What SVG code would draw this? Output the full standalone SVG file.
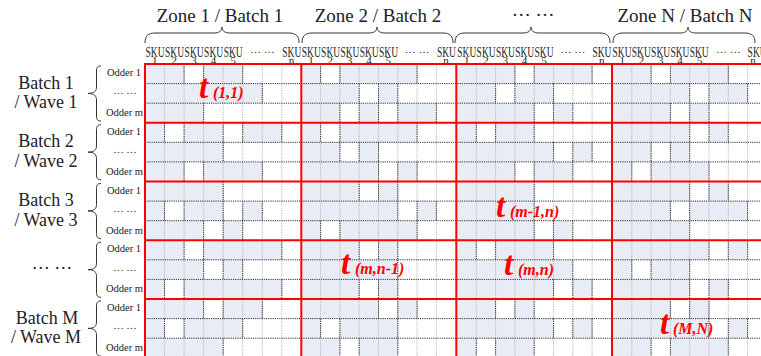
<svg xmlns="http://www.w3.org/2000/svg" width="761" height="356" viewBox="0 0 761 356">
<style>
.ser{font-family:"Liberation Serif","Times New Roman",serif;fill:#222}
.title{font-size:19px;text-anchor:middle}
.blab{font-size:18px;text-anchor:middle}
.sku{font-size:15px}
.num{font-size:11px;text-anchor:middle}
.row{font-size:10.5px}
.ell{font-size:11px;text-anchor:middle}
.brace{fill:none;stroke:#333;stroke-width:1}
.blue{fill:#e8ecf5;stroke:none}
.light{fill:none;stroke:#b4b4b4;stroke-width:1;stroke-dasharray:1.2 1.2}
.dark{fill:none;stroke:#333;stroke-width:1;stroke-dasharray:1.2 1}
.red{fill:none;stroke:#ff0000;stroke-width:2}
.tl{font-family:"Liberation Serif","Times New Roman",serif;font-weight:bold;font-style:italic;fill:#ff0000}
.tt{font-size:33px}
.ts{font-size:16px}
</style>
<defs>
<path id="lb" d="M101,2 C97.5,2 96.5,3.5 96.5,7 L96.5,23 C96.5,27 94.5,29.4 88,29.4 C94.5,29.4 96.5,32 96.5,36 L96.5,52 C96.5,55.5 97.5,57 101,57"/>
</defs>
<rect width="761" height="356" fill="#fff"/>

<g id="zone-headers">
<text class="ser title" x="220" y="22">Zone 1 / Batch 1</text>
<text class="ser title" x="378" y="22">Zone 2 / Batch 2</text>
<text class="ser title" x="533" y="16">… …</text>
<text class="ser title" x="685" y="22">Zone N / Batch N</text>
<path class="brace" d="M145,43 C145,36 148,33 155,33 L214,33 C219,33 222,31 222,27 C222,31 225,33 230,33 L289,33 C296,33 299,36 299,43"/>
<path class="brace" d="M302,43 C302,36 305,33 312,33 L369,33 C374,33 377,31 377,27 C377,31 380,33 385,33 L443,33 C450,33 453,36 453,43"/>
<path class="brace" d="M455,43 C455,36 458,33 465,33 L523,33 C528,33 531,31 531,27 C531,31 534,33 539,33 L600,33 C607,33 610,36 610,43"/>
<path class="brace" d="M613,43 C613,36 616,33 623,33 L680,33 C685,33 688,31 688,27 C688,31 691,33 696,33 L745,33 C752,33 755,36 755,43"/>
</g>

<g id="sku-labels">
<g class="ser">
<text class="sku" x="145.5" y="57" textLength="19" lengthAdjust="spacingAndGlyphs">SKU</text>
<text class="sku" x="165" y="57" textLength="19" lengthAdjust="spacingAndGlyphs">SKU</text>
<text class="sku" x="184.6" y="57" textLength="19" lengthAdjust="spacingAndGlyphs">SKU</text>
<text class="sku" x="204.1" y="57" textLength="19" lengthAdjust="spacingAndGlyphs">SKU</text>
<text class="sku" x="223.7" y="57" textLength="19" lengthAdjust="spacingAndGlyphs">SKU</text>
<text class="sku" x="282.3" y="57" textLength="19" lengthAdjust="spacingAndGlyphs">SKU</text>
<text class="num" x="154.8" y="63.5">1</text>
<text class="num" x="174.3" y="63.5">2</text>
<text class="num" x="193.9" y="63.5">3</text>
<text class="num" x="213.4" y="63.5">4</text>
<text class="num" x="233" y="63.5">5</text>
<text class="num" x="291.5" y="63.5">n</text>
<text class="ell" x="262.3" y="53">… …</text>

<text class="sku" x="301.8" y="57" textLength="19" lengthAdjust="spacingAndGlyphs">SKU</text>
<text class="sku" x="321.1" y="57" textLength="19" lengthAdjust="spacingAndGlyphs">SKU</text>
<text class="sku" x="340.4" y="57" textLength="19" lengthAdjust="spacingAndGlyphs">SKU</text>
<text class="sku" x="359.7" y="57" textLength="19" lengthAdjust="spacingAndGlyphs">SKU</text>
<text class="sku" x="379" y="57" textLength="19" lengthAdjust="spacingAndGlyphs">SKU</text>
<text class="sku" x="436.9" y="57" textLength="19" lengthAdjust="spacingAndGlyphs">SKU</text>
<text class="num" x="311" y="63.5">1</text>
<text class="num" x="330.3" y="63.5">2</text>
<text class="num" x="349.6" y="63.5">3</text>
<text class="num" x="368.9" y="63.5">4</text>
<text class="num" x="388.2" y="63.5">5</text>
<text class="num" x="446" y="63.5">n</text>
<text class="ell" x="417.1" y="53">… …</text>

<text class="sku" x="457.3" y="57" textLength="19" lengthAdjust="spacingAndGlyphs">SKU</text>
<text class="sku" x="476.6" y="57" textLength="19" lengthAdjust="spacingAndGlyphs">SKU</text>
<text class="sku" x="495.9" y="57" textLength="19" lengthAdjust="spacingAndGlyphs">SKU</text>
<text class="sku" x="515.2" y="57" textLength="19" lengthAdjust="spacingAndGlyphs">SKU</text>
<text class="sku" x="534.5" y="57" textLength="19" lengthAdjust="spacingAndGlyphs">SKU</text>
<text class="sku" x="592.4" y="57" textLength="19" lengthAdjust="spacingAndGlyphs">SKU</text>
<text class="num" x="466.7" y="63.5">1</text>
<text class="num" x="486" y="63.5">2</text>
<text class="num" x="505.3" y="63.5">3</text>
<text class="num" x="524.6" y="63.5">4</text>
<text class="num" x="543.9" y="63.5">5</text>
<text class="num" x="601.8" y="63.5">n</text>
<text class="ell" x="572.8" y="53">… …</text>

<text class="sku" x="612.5" y="57" textLength="19" lengthAdjust="spacingAndGlyphs">SKU</text>
<text class="sku" x="631.8" y="57" textLength="19" lengthAdjust="spacingAndGlyphs">SKU</text>
<text class="sku" x="651.1" y="57" textLength="19" lengthAdjust="spacingAndGlyphs">SKU</text>
<text class="sku" x="670.4" y="57" textLength="19" lengthAdjust="spacingAndGlyphs">SKU</text>
<text class="sku" x="689.7" y="57" textLength="19" lengthAdjust="spacingAndGlyphs">SKU</text>
<text class="sku" x="747.6" y="57" textLength="19" lengthAdjust="spacingAndGlyphs">SKU</text>
<text class="num" x="622.2" y="63.5">1</text>
<text class="num" x="641.5" y="63.5">2</text>
<text class="num" x="660.8" y="63.5">3</text>
<text class="num" x="680.1" y="63.5">4</text>
<text class="num" x="699.4" y="63.5">5</text>
<text class="num" x="753" y="63.5">n</text>
<text class="ell" x="728.3" y="53">… …</text>
</g>
</g>

<g id="batch-labels">
<g class="ser blab">
<text x="46" y="88.5">Batch 1</text>
<text x="46" y="108">/ Wave 1</text>
<text x="46" y="147.3">Batch 2</text>
<text x="46" y="166.8">/ Wave 2</text>
<text x="46" y="206">Batch 3</text>
<text x="46" y="225.5">/ Wave 3</text>
<text x="52" y="268.5">… …</text>
<text x="47" y="323.5">Batch M</text>
<text x="46" y="343">/ Wave M</text>
</g>
<use href="#lb" class="brace" y="64"/>
<use href="#lb" class="brace" y="122.75"/>
<use href="#lb" class="brace" y="181.5"/>
<use href="#lb" class="brace" y="240.25"/>
<use href="#lb" class="brace" y="299"/>
<g class="ser row">
<text x="107" y="76">Odder 1</text>
<text x="125" y="94.4" text-anchor="middle">… …</text>
<text x="106" y="116">Odder m</text>
<text x="107" y="134.75">Odder 1</text>
<text x="125" y="153.15" text-anchor="middle">… …</text>
<text x="106" y="174.75">Odder m</text>
<text x="107" y="193.5">Odder 1</text>
<text x="125" y="211.9" text-anchor="middle">… …</text>
<text x="106" y="233.5">Odder m</text>
<text x="107" y="252.25">Odder 1</text>
<text x="125" y="270.65" text-anchor="middle">… …</text>
<text x="106" y="292.25">Odder m</text>
<text x="107" y="311">Odder 1</text>
<text x="125" y="329.4" text-anchor="middle">… …</text>
<text x="106" y="351">Odder m</text>
</g>
</g>

<g id="grid">
<path class="blue" d="
M145 64h39.1v19.6h-39.1z M203.6 64h39.1v19.6h-39.1z
M145 83.6h117.3v19.6h-117.3z
M145 103.2h58.6v19.6h-58.6z
M145 122.8h19.5v19.6h-19.5z M184.1 122.8h39.1v19.6h-39.1z M242.7 122.8h39.1v19.6h-39.1z
M145 142.3h78.2v19.6h-78.2z
M145 161.9h39.1v19.6h-39.1z M203.6 161.9h58.7v19.6h-58.7z
M145 181.5h78.2v19.6h-78.2z
M145 201.1h19.5v19.6h-19.5z M184.1 201.1h39.1v19.6h-39.1z M242.7 201.1h19.6v19.6h-19.6z
M145 220.7h58.6v19.6h-58.6z M223.2 220.7h19.5v19.6h-19.5z
M145 240.3h39.1v19.6h-39.1z M203.6 240.3h78.2v19.6h-78.2z
M145 259.8h58.6v19.6h-58.6z M223.2 259.8h19.5v19.6h-19.5z
M145 279.4h19.5v19.6h-19.5z M184.1 279.4h97.7v19.6h-97.7z
M145 299h58.6v19.6h-58.6z M223.2 299h39.1v19.6h-39.1z
M145 318.6h19.5v19.6h-19.5z M184.1 318.6h58.6v19.6h-58.6z
M145 338.2h78.2v19.6h-78.2z

M301.3 64h19.3v19.6h-19.3z M339.9 64h77.2v19.6h-77.2z
M301.3 83.6h57.9v19.6h-57.9z M378.5 83.6h19.3v19.6h-19.3z
M301.3 103.2h38.6v19.6h-38.6z M359.2 103.2h19.3v19.6h-19.3z M397.8 103.2h38.6v19.6h-38.6z
M301.3 122.8h19.3v19.6h-19.3z M339.9 122.8h77.2v19.6h-77.2z
M301.3 142.3h38.6v19.6h-38.6z M359.2 142.3h19.3v19.6h-19.3z
M301.3 161.9h77.2v19.6h-77.2z M397.8 161.9h19.3v19.6h-19.3z
M301.3 181.5h57.9v19.6h-57.9z M378.5 181.5h19.3v19.6h-19.3z
M301.3 201.1h96.5v19.6h-96.5z M417.1 201.1h19.3v19.6h-19.3z
M301.3 220.7h19.3v19.6h-19.3z M339.9 220.7h77.2v19.6h-77.2z
M301.3 240.3h57.9v19.6h-57.9z M378.5 240.3h19.3v19.6h-19.3z
M301.3 259.8h96.5v19.6h-96.5z
M301.3 279.4h57.9v19.6h-57.9z M378.5 279.4h19.3v19.6h-19.3z
M301.3 299h77.2v19.6h-77.2z M397.8 299h19.3v19.6h-19.3z
M301.3 318.6h19.3v19.6h-19.3z M339.9 318.6h57.9v19.6h-57.9z
M301.3 338.2h38.6v19.6h-38.6z M359.2 338.2h38.6v19.6h-38.6z

M457 64h57.9v19.6h-57.9z M534.2 64h57.9v19.6h-57.9z
M457 83.6h38.6v19.6h-38.6z M514.9 83.6h38.6v19.6h-38.6z
M457 103.2h77.2v19.6h-77.2z M553.5 103.2h19.3v19.6h-19.3z
M457 122.8h19.3v19.6h-19.3z M495.6 122.8h38.6v19.6h-38.6z
M457 142.3h96.5v19.6h-96.5z M572.8 142.3h19.3v19.6h-19.3z
M457 161.9h57.9v19.6h-57.9z M534.2 161.9h38.6v19.6h-38.6z
M457 181.5h77.2v19.6h-77.2z
M457 201.1h77.2v19.6h-77.2z
M457 220.7h77.2v19.6h-77.2z M553.5 220.7h19.3v19.6h-19.3z
M457 240.3h19.3v19.6h-19.3z M495.6 240.3h57.9v19.6h-57.9z
M457 259.8h115.8v19.6h-115.8z
M457 279.4h96.5v19.6h-96.5z M572.8 279.4h19.3v19.6h-19.3z
M457 299h38.6v19.6h-38.6z M514.9 299h19.3v19.6h-19.3z
M457 318.6h96.5v19.6h-96.5z M572.8 318.6h19.3v19.6h-19.3z
M457 338.2h19.3v19.6h-19.3z M495.6 338.2h38.6v19.6h-38.6z

M612.5 64h38.6v19.6h-38.6z M670.4 64h57.9v19.6h-57.9z
M612.5 83.6h77.2v19.6h-77.2z M709 83.6h38.6v19.6h-38.6z
M612.5 103.2h57.9v19.6h-57.9z M689.7 103.2h19.3v19.6h-19.3z
M612.5 122.8h77.2v19.6h-77.2z M709 122.8h19.3v19.6h-19.3z
M612.5 142.3h38.6v19.6h-38.6z M670.4 142.3h19.3v19.6h-19.3z
M612.5 161.9h19.3v19.6h-19.3z M651.1 161.9h57.9v19.6h-57.9z
M612.5 181.5h77.2v19.6h-77.2z M709 181.5h19.3v19.6h-19.3z
M612.5 201.1h57.9v19.6h-57.9z M689.7 201.1h57.9v19.6h-57.9z
M612.5 220.7h77.2v19.6h-77.2z
M612.5 240.3h96.5v19.6h-96.5z M728.3 240.3h19.3v19.6h-19.3z
M612.5 259.8h19.3v19.6h-19.3z M651.1 259.8h38.6v19.6h-38.6z
M612.5 279.4h77.2v19.6h-77.2z M709 279.4h19.3v19.6h-19.3z
M612.5 299h57.9v19.6h-57.9z M689.7 299h19.3v19.6h-19.3z
M612.5 318.6h96.5v19.6h-96.5z M728.3 318.6h19.3v19.6h-19.3z
M612.5 338.2h38.6v19.6h-38.6z M670.4 338.2h57.9v19.6h-57.9z"/>

<path class="light" d="M164.5 64V356M184.1 64V356M203.6 64V356M223.2 64V356M242.7 64V356M262.3 64V356M281.8 64V356
M320.6 64V356M339.9 64V356M359.2 64V356M378.5 64V356M397.8 64V356M417.1 64V356M436.4 64V356
M476.3 64V356M495.6 64V356M514.9 64V356M534.2 64V356M553.5 64V356M572.8 64V356M592.1 64V356
M631.8 64V356M651.1 64V356M670.4 64V356M689.7 64V356M709 64V356M728.3 64V356M747.6 64V356"/>

<path class="dark" d="
M184.1 64v19.6M203.6 64v19.6M242.7 64v19.6M320.6 64v19.6M339.9 64v19.6M417.1 64v19.6M514.9 64v19.6M534.2 64v19.6M592.1 64v19.6M651.1 64v19.6M670.4 64v19.6M728.3 64v19.6
M262.3 83.6v19.6M359.2 83.6v19.6M378.5 83.6v19.6M397.8 83.6v19.6M495.6 83.6v19.6M514.9 83.6v19.6M553.5 83.6v19.6M689.7 83.6v19.6M709 83.6v19.6M747.6 83.6v19.6
M203.6 103.2v19.6M339.9 103.2v19.6M359.2 103.2v19.6M378.5 103.2v19.6M397.8 103.2v19.6M436.4 103.2v19.6M534.2 103.2v19.6M553.5 103.2v19.6M572.8 103.2v19.6M670.4 103.2v19.6M689.7 103.2v19.6M709 103.2v19.6
M164.5 122.8v19.6M184.1 122.8v19.6M223.2 122.8v19.6M242.7 122.8v19.6M281.8 122.8v19.6M320.6 122.8v19.6M339.9 122.8v19.6M417.1 122.8v19.6M476.3 122.8v19.6M495.6 122.8v19.6M534.2 122.8v19.6M689.7 122.8v19.6M709 122.8v19.6M728.3 122.8v19.6
M223.2 142.3v19.6M339.9 142.3v19.6M359.2 142.3v19.6M378.5 142.3v19.6M553.5 142.3v19.6M572.8 142.3v19.6M592.1 142.3v19.6M651.1 142.3v19.6M670.4 142.3v19.6M689.7 142.3v19.6
M184.1 161.9v19.6M203.6 161.9v19.6M262.3 161.9v19.6M378.5 161.9v19.6M397.8 161.9v19.6M417.1 161.9v19.6M514.9 161.9v19.6M534.2 161.9v19.6M572.8 161.9v19.6M631.8 161.9v19.6M651.1 161.9v19.6M709 161.9v19.6
M223.2 181.5v19.6M359.2 181.5v19.6M378.5 181.5v19.6M397.8 181.5v19.6M534.2 181.5v19.6M689.7 181.5v19.6M709 181.5v19.6M728.3 181.5v19.6
M164.5 201.1v19.6M184.1 201.1v19.6M223.2 201.1v19.6M242.7 201.1v19.6M262.3 201.1v19.6M397.8 201.1v19.6M417.1 201.1v19.6M436.4 201.1v19.6M534.2 201.1v19.6M670.4 201.1v19.6M689.7 201.1v19.6M747.6 201.1v19.6
M203.6 220.7v19.6M223.2 220.7v19.6M242.7 220.7v19.6M320.6 220.7v19.6M339.9 220.7v19.6M417.1 220.7v19.6M534.2 220.7v19.6M553.5 220.7v19.6M572.8 220.7v19.6M689.7 220.7v19.6
M184.1 240.3v19.6M203.6 240.3v19.6M281.8 240.3v19.6M359.2 240.3v19.6M378.5 240.3v19.6M397.8 240.3v19.6M476.3 240.3v19.6M495.6 240.3v19.6M553.5 240.3v19.6M709 240.3v19.6M728.3 240.3v19.6M747.6 240.3v19.6
M203.6 259.8v19.6M223.2 259.8v19.6M242.7 259.8v19.6M397.8 259.8v19.6M572.8 259.8v19.6M631.8 259.8v19.6M651.1 259.8v19.6M689.7 259.8v19.6
M164.5 279.4v19.6M184.1 279.4v19.6M281.8 279.4v19.6M359.2 279.4v19.6M378.5 279.4v19.6M397.8 279.4v19.6M553.5 279.4v19.6M572.8 279.4v19.6M592.1 279.4v19.6M689.7 279.4v19.6M709 279.4v19.6M728.3 279.4v19.6
M203.6 299v19.6M223.2 299v19.6M262.3 299v19.6M378.5 299v19.6M397.8 299v19.6M417.1 299v19.6M495.6 299v19.6M514.9 299v19.6M534.2 299v19.6M670.4 299v19.6M689.7 299v19.6M709 299v19.6
M164.5 318.6v19.6M184.1 318.6v19.6M242.7 318.6v19.6M320.6 318.6v19.6M339.9 318.6v19.6M397.8 318.6v19.6M553.5 318.6v19.6M572.8 318.6v19.6M592.1 318.6v19.6M709 318.6v19.6M728.3 318.6v19.6M747.6 318.6v19.6
M223.2 338.2v19.6M339.9 338.2v19.6M359.2 338.2v19.6M397.8 338.2v19.6M476.3 338.2v19.6M495.6 338.2v19.6M534.2 338.2v19.6M651.1 338.2v19.6M670.4 338.2v19.6M728.3 338.2v19.6
M145 83.6H761M145 103.2H761M145 142.3H761M145 161.9H761M145 201.1H761M145 220.7H761M145 259.8H761M145 279.4H761M145 318.6H761M145 338.2H761"/>

<path class="red" d="M145 64H761M145 122.75H761M145 181.5H761M145 240.25H761M145 299H761
M145 63V356M301.3 63V356M456.3 63V356M612 63V356"/>
</g>

<g id="time-labels">
<text class="tl" y="98"><tspan class="tt" x="199">t</tspan><tspan class="ts" x="213">(1,1)</tspan></text>
<text class="tl" y="217"><tspan class="tt" x="496">t</tspan><tspan class="ts" x="510">(m-1,n)</tspan></text>
<text class="tl" y="275"><tspan class="tt" x="504">t</tspan><tspan class="ts" x="518">(m,n)</tspan></text>
<text class="tl" y="274"><tspan class="tt" x="341">t</tspan><tspan class="ts" x="355">(m,n-1)</tspan></text>
<text class="tl" y="334"><tspan class="tt" x="660">t</tspan><tspan class="ts" x="673">(M,N)</tspan></text>
</g>
</svg>
